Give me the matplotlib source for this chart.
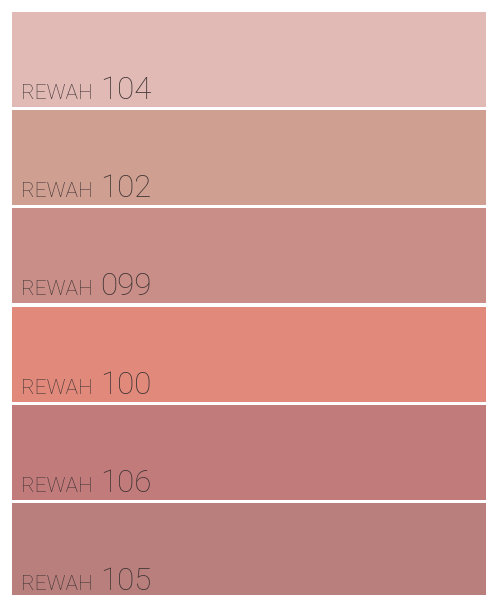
import matplotlib.pyplot as plt

# Swatch data
brand = 'REWAH'
codes = ['104', '102', '099', '100', '106', '105']
colors = ['#e1bab5', '#cf9f91', '#c88e87', '#e1897b', '#c27b7b', '#b87f7d']

plt.rcParams['font.family'] = ['Roboto', 'DejaVu Sans']

fig = plt.figure(figsize=(4.86, 5.95), dpi=100)
ax = fig.add_axes([0, 0, 1, 1])

pitch = 98.2
positions = [i for i in range(len(codes))]
ax.barh(positions, 474, left=12, height=95 / pitch, align='edge',
        color=colors, linewidth=0)

for i, code in enumerate(codes):
    base = i + 87 / pitch
    ax.text(21, base, brand, fontsize=15, fontweight='light',
            color='#3f3434', va='baseline', ha='left')
    ax.text(100, base, code, fontsize=22.5, fontweight='light',
            color='#3f3434', va='baseline', ha='left')

ax.set_xlim(0, 486)
ax.set_ylim((595 - 12) / pitch, -12 / pitch)
ax.axis('off')

plt.savefig('out.png', dpi=100, facecolor='white')
